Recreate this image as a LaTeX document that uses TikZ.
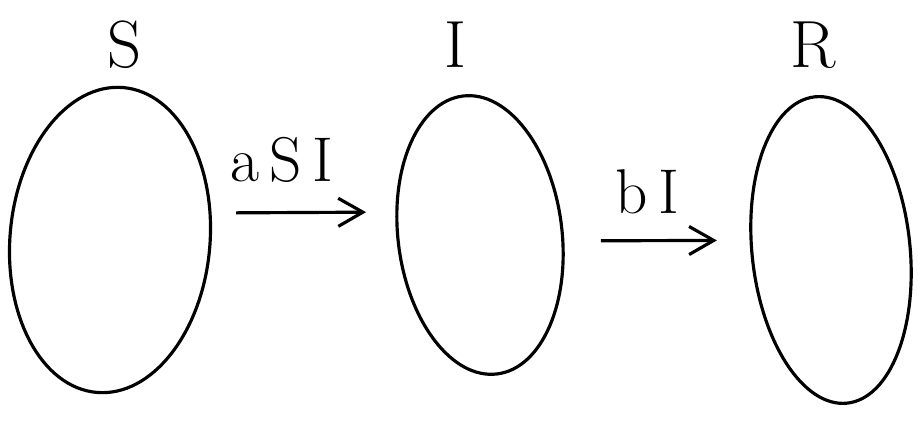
\documentclass[tikz,border=0pt]{standalone}
\usetikzlibrary{shapes.geometric, arrows.meta, positioning, calc}

\begin{document}
\begin{tikzpicture}[
  compart/.style={ellipse, draw=black, line width=0.9pt, inner sep=0pt},
  lbl/.style={font=\fontsize{19}{22}\selectfont},
  rate/.style={font=\fontsize{18}{21}\selectfont, inner sep=4pt},
  arr/.style={-{Straight Barb[length=7pt,width=8pt]}, line width=0.9pt}
]
  \useasboundingbox (0,0) rectangle (9.18,4.25);

  % compartments
  \node[compart, minimum width=2.0cm,  minimum height=3.06cm, rotate=-5] (S) at (1.10,1.85) {};
  \node[compart, minimum width=1.64cm, minimum height=2.80cm, rotate=7]  (I) at (4.80,1.90) {};
  \node[compart, minimum width=1.58cm, minimum height=3.08cm, rotate=6]  (R) at (8.31,1.75) {};

  \node[lbl] (labS) at (1.25,3.80) {S};
  \node[lbl] (labI) at (4.55,3.80) {I};
  \node[lbl] (labR) at (8.13,3.80) {R};

  % flows
  \draw[arr] ([shift={(0.25,0.36)}]S.east) -- node[rate, above=4pt, pos=0.35]{a\,S\,I}
             ([shift={(-0.31,0.33)}]I.west);
  \draw[arr] ([shift={(0.38,-0.16)}]I.east) -- node[rate, above=3pt, pos=0.4]{b\,I}
             ([shift={(-0.34,0.18)}]R.west);
\end{tikzpicture}
\end{document}
